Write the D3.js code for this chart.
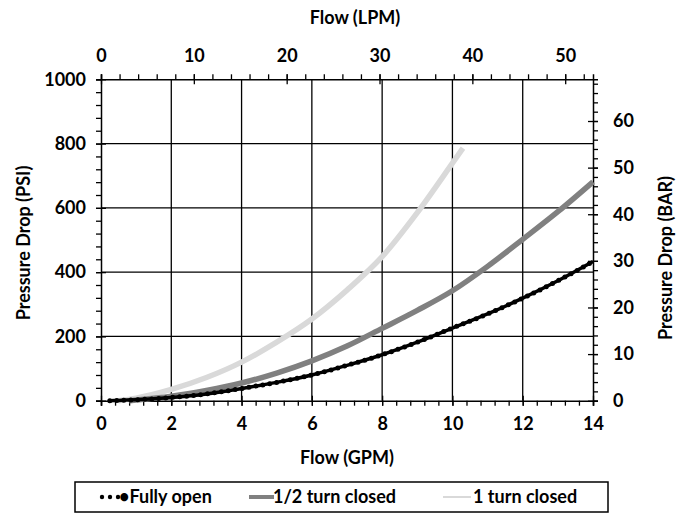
<!DOCTYPE html>
<html>
<head>
<meta charset="utf-8">
<script src="https://cdn.jsdelivr.net/npm/d3@7"></script>
<style>
  body { margin: 0; background: #fff; }
  text { font-family: Lato, "Open Sans", sans-serif; font-weight: 700; fill: #000; }
</style>
</head>
<body>
<div id="canvas"></div>
<script>
const gpmTicks = [0, 2, 4, 6, 8, 10, 12, 14];
const psiTicks = [0, 200, 400, 600, 800, 1000];
const lpmTicks = [0, 10, 20, 30, 40, 50];
const barTicks = [0, 10, 20, 30, 40, 50, 60];

// Fully open
const openGpm = [0.25, 0.5, 1, 1.5, 2, 3, 4, 5, 6, 7, 8, 9, 10, 11, 12, 13, 14];
const openPsi = [0, 1, 3, 6, 10, 21, 38, 57, 80, 110, 143, 182, 226, 270, 319, 373, 433];
// 1/2 turn closed
const halfGpm = [0.8, 1, 2, 3, 4, 5, 6, 7, 8, 9, 10, 11, 12, 13, 14];
const halfPsi = [0, 2, 14, 32, 55, 86, 124, 170, 225, 281, 342, 418, 502, 588, 681];
// 1 turn closed
const oneGpm = [0.5, 1, 2, 3, 4, 5, 6, 7, 8, 9, 10, 10.3];
const onePsi = [0, 8, 35, 72, 120, 182, 254, 344, 448, 585, 739, 786];

const W = 678, H = 513;
const pL = 101, pR = 593, pT = 79.3, pB = 400.7;
const fs = '18px';

const svg = d3.select('#canvas').append('svg')
  .attr('width', W)
  .attr('height', H);

const x = d3.scaleLinear().domain([0, 14]).range([pL, pR]);
const y = d3.scaleLinear().domain([0, 1000]).range([pB, pT]);
const xL = d3.scaleLinear().domain([0, 14 * 3.78541]).range([pL, pR]);
const yB = d3.scaleLinear().domain([0, 1000 / 14.5038]).range([pB, pT]);

// grid
svg.append('g').selectAll('line')
  .data(gpmTicks.slice(1, -1))
  .enter().append('line')
  .attr('x1', d => x(d)).attr('x2', d => x(d))
  .attr('y1', pT).attr('y2', pB)
  .attr('stroke', '#000').attr('stroke-width', 1.3);
svg.append('g').selectAll('line')
  .data(psiTicks.slice(1, -1))
  .enter().append('line')
  .attr('x1', pL).attr('x2', pR)
  .attr('y1', d => y(d)).attr('y2', d => y(d))
  .attr('stroke', '#000').attr('stroke-width', 1.3);

// axes: major ticks cross the line, minor ticks point outward
const axis = (gen, scale, major, minor, tr, cross) => {
  svg.append('g').attr('transform', tr)
    .call(gen(scale).tickValues(minor).tickSize(5).tickFormat(''))
    .call(a => a.select('.domain').remove());
  const m = svg.append('g').attr('transform', tr)
    .call(gen(scale).tickValues(major).tickSize(5).tickPadding(cross.pad).tickFormat(d3.format('d')))
    .call(a => a.select('.domain').attr('stroke-width', 1.5));
  m.selectAll('.tick line').attr(cross.attr, cross.val);
  m.selectAll('text').attr('font-size', fs).attr('font-family', null);
  return m;
};

axis(d3.axisBottom, x, gpmTicks, d3.range(0, 14.01, 0.4), `translate(0,${pB})`, {attr: 'y1', val: -5, pad: 12});
axis(d3.axisLeft, y, psiTicks, d3.range(0, 1001, 40), `translate(${pL},0)`, {attr: 'x1', val: 5, pad: 10});
axis(d3.axisTop, xL, lpmTicks, d3.range(0, 53, 2), `translate(0,${pT})`, {attr: 'y1', val: 5, pad: 12});
axis(d3.axisRight, yB, barTicks, d3.range(0, 69, 2), `translate(${pR},0)`, {attr: 'x1', val: -5, pad: 15});

svg.selectAll('.tick line').attr('stroke-width', 1.3);
svg.selectAll('.tick text').attr('font-weight', 700);

// titles
svg.append('text').text('Flow (GPM)')
  .attr('x', 347).attr('y', 464).attr('text-anchor', 'middle').attr('font-size', fs);
svg.append('text').text('Flow (LPM)')
  .attr('x', 355).attr('y', 24).attr('text-anchor', 'middle').attr('font-size', fs);
svg.append('text').text('Pressure Drop (PSI)')
  .attr('transform', 'translate(30,243) rotate(-90)').attr('text-anchor', 'middle').attr('font-size', fs);
svg.append('text').text('Pressure Drop (BAR)')
  .attr('transform', 'translate(672,258) rotate(-90)').attr('text-anchor', 'middle').attr('font-size', fs);

// series
const line = d3.line().x(d => x(d[0])).y(d => y(d[1])).curve(d3.curveMonotoneX);
const zip = (a, b) => a.map((v, i) => [v, b[i]]);

svg.append('path').datum(zip(oneGpm, onePsi))
  .attr('d', line).attr('fill', 'none')
  .attr('stroke', '#d9d9d9').attr('stroke-width', 5.5);
svg.append('path').datum(zip(halfGpm, halfPsi))
  .attr('d', line).attr('fill', 'none')
  .attr('stroke', '#808080').attr('stroke-width', 5.5);
svg.append('path').datum(zip(openGpm, openPsi))
  .attr('d', line).attr('fill', 'none')
  .attr('stroke', '#000').attr('stroke-width', 3.5);
svg.append('path').datum(zip(openGpm, openPsi))
  .attr('d', line).attr('fill', 'none')
  .attr('stroke', '#000').attr('stroke-width', 5)
  .attr('stroke-linecap', 'round').attr('stroke-dasharray', '0 7');

// legend
const lg = svg.append('g');
lg.append('rect')
  .attr('x', 75).attr('y', 482).attr('width', 533).attr('height', 30)
  .attr('fill', '#fff').attr('stroke', '#000').attr('stroke-width', 1.5);
[102, 110, 118].forEach(cx => lg.append('circle')
  .attr('cx', cx).attr('cy', 497).attr('r', 2.2).attr('fill', '#000'));
lg.append('text').text('•Fully open').attr('x', 119).attr('y', 503).attr('font-size', fs);
lg.append('line').attr('x1', 249).attr('x2', 274).attr('y1', 497).attr('y2', 497)
  .attr('stroke', '#808080').attr('stroke-width', 4);
lg.append('text').text('1/2 turn closed').attr('x', 273).attr('y', 503).attr('font-size', fs);
lg.append('line').attr('x1', 443).attr('x2', 471).attr('y1', 497).attr('y2', 497)
  .attr('stroke', '#d9d9d9').attr('stroke-width', 2);
lg.append('text').text('1 turn closed').attr('x', 473).attr('y', 503).attr('font-size', fs);
</script>
</body>
</html>
